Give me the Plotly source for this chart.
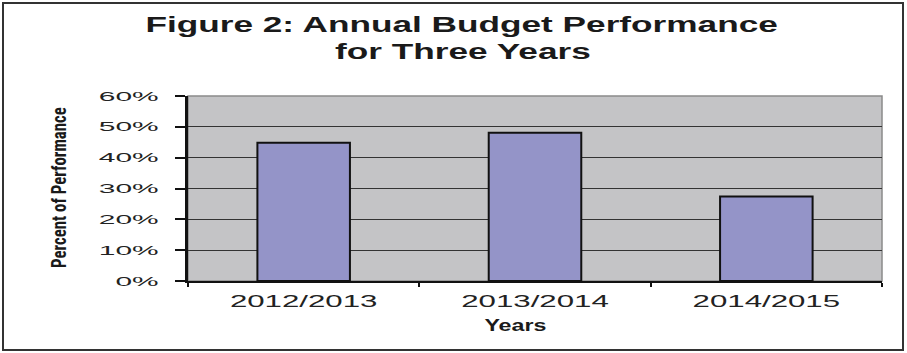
import plotly.graph_objects as go

categories = ["2012/2013", "2013/2014", "2014/2015"]
performance = [0.448, 0.481, 0.274]
y_ticks = [0, 0.1, 0.2, 0.3, 0.4, 0.5, 0.6]

W, H = 907, 353
L, R, T, B = 188, 25, 96, 72
pw, ph = W - L - R, H - T - B

def px_x(p):
    return (p - L) / pw

def px_y(p):
    return (H - B - p) / ph

fig = go.Figure()
fig.add_trace(go.Bar(
    x=categories, y=performance, width=0.4,
    marker=dict(color="#9494c8", line=dict(color="#111111", width=2)),
))

font_main = "Liberation Sans, Arial, sans-serif"

fig.update_layout(
    width=W, height=H,
    margin=dict(l=L, r=R, t=T, b=B),
    paper_bgcolor="white", plot_bgcolor="#c4c4c6",
    showlegend=False,
    font=dict(family=font_main, color="#222222"),
    xaxis=dict(
        type="category", showline=True, linecolor="#111111", linewidth=2,
        ticks="outside", tickson="boundaries", ticklen=4, tickwidth=1.5, tickcolor="#111111",
        showgrid=False, tickfont=dict(size=16, color="#222222"), ticklabelstandoff=5,
    ),
    yaxis=dict(
        range=[0, 0.6], tickvals=y_ticks, tickformat=".0%",
        showline=True, linecolor="#111111", linewidth=2.5,
        ticks="outside", ticklen=10, tickwidth=1.5, tickcolor="#111111",
        showgrid=True, gridcolor="#333333", gridwidth=1.4, zeroline=False,
        tickfont=dict(size=13, color="#222222"), ticklabelstandoff=14,
    ),
)

# plot-area border (top/right gray)
fig.add_shape(type="rect", xref="paper", yref="paper", x0=0, x1=1, y0=0, y1=1,
              line=dict(color="#8a8a8a", width=1.5), layer="below")
# outer chart border
fig.add_shape(type="rect", xref="paper", yref="paper",
              x0=px_x(3), x1=px_x(903), y0=px_y(350), y1=px_y(3),
              line=dict(color="#333333", width=2))

fig.add_annotation(text="<b>Figure 2: Annual Budget Performance</b>",
                   xref="paper", yref="paper", x=px_x(461), y=px_y(24),
                   xanchor="center", yanchor="middle", showarrow=False,
                   font=dict(size=22, family=font_main, color="#1a1a1a"))
fig.add_annotation(text="<b>for Three Years</b>",
                   xref="paper", yref="paper", x=px_x(463), y=px_y(51),
                   xanchor="center", yanchor="middle", showarrow=False,
                   font=dict(size=22, family=font_main, color="#1a1a1a"))
fig.add_annotation(text="<b>Years</b>", xref="paper", yref="paper",
                   x=px_x(515), y=px_y(325), xanchor="center", yanchor="middle",
                   showarrow=False, font=dict(size=16, family=font_main, color="#1a1a1a"))
fig.add_annotation(text="<b>Percent of Performance</b>", xref="paper", yref="paper",
                   x=px_x(59), y=px_y(188), xanchor="center", yanchor="middle",
                   textangle=-90, showarrow=False,
                   font=dict(size=21, family="Liberation Sans Narrow, Roboto Condensed, Liberation Sans, sans-serif",
                             color="#1a1a1a"))

# The reference image is horizontally stretched; mimic it by stretching glyphs.
post = """
var gd = document.getElementById('{plot_id}');
function stretch(el, f) {
  var w = el.getComputedTextLength();
  el.setAttribute('textLength', (w * f).toFixed(1));
  el.setAttribute('lengthAdjust', 'spacingAndGlyphs');
}
gd.querySelectorAll('.xtick text').forEach(function (t) { stretch(t, 1.95); });
gd.querySelectorAll('.ytick text').forEach(function (t) { stretch(t, 2.3); });
gd.querySelectorAll('.annotation-text').forEach(function (t) {
  var s = t.textContent;
  if (s.indexOf('Percent') === 0) { stretch(t, 0.8); }
  else if (s === 'Years') { stretch(t, 1.45); }
  else { stretch(t, 1.6); }
});
"""

fig.write_html("out.html", post_script=post)
